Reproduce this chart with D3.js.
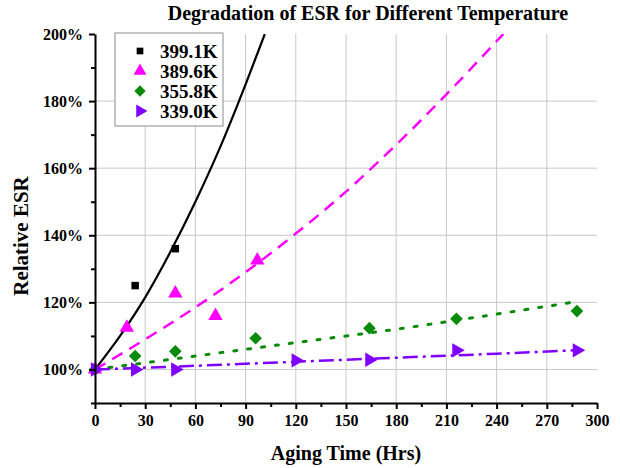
<!DOCTYPE html>
<html>
<head>
<meta charset="utf-8">
<script src="https://cdn.jsdelivr.net/npm/d3@7"></script>
<style>
  body { margin: 0; background: #fff; }
  text { font-family: "Liberation Serif", "Times New Roman", serif; font-weight: bold; }
</style>
</head>
<body>
<div class="vis-esr"></div>
<script>
// series names
const seriesNames = ["399.1K", "389.6K", "355.8K", "339.0K"];

// measured points
const hrs399 = [0, 24, 48];
const esr399 = [100, 125, 136];
const hrs389 = [0, 19, 48, 72, 97];
const esr389 = [100, 112.5, 122.7, 116, 132.5];
const hrs355 = [0, 24, 48, 96, 164, 216, 288];
const esr355 = [100, 104, 105.4, 109.3, 112.3, 115.1, 117.4];
const hrs339 = [0, 24, 48, 120, 164, 216, 288];
const esr339 = [100, 100, 100, 102.7, 102.9, 105.7, 105.7];

// fitted curves
const fitHrs399 = [0, 15, 30, 45, 60, 75, 90, 101.5];
const fitEsr399 = [100, 110, 121.5, 135, 150, 166.5, 185, 200];
const fitHrs389 = [0, 30, 60, 90, 120, 150, 180, 210, 244];
const fitEsr389 = [100, 109, 118.5, 129, 140.5, 153, 167, 182, 200];
const fitHrs355 = [0, 60, 120, 180, 240, 285];
const fitEsr355 = [100, 104, 108, 112, 116.5, 120];
const fitHrs339 = [0, 60, 120, 180, 240, 290];
const fitEsr339 = [100, 101.1, 102.3, 103.5, 104.7, 105.8];

// axis ticks
const xTicks = [0, 30, 60, 90, 120, 150, 180, 210, 240, 270, 300];
const yTicks = [100, 120, 140, 160, 180, 200];

const zip = (a, b) => a.map((v, i) => ({ x: v, y: b[i] }));

const series = [
    { name: seriesNames[0], pts: zip(hrs399, esr399), fit: zip(fitHrs399, fitEsr399), color: "#000000", dash: null, width: 2.2, sym: d3.symbolSquare, size: 56, rot: 0 },
    { name: seriesNames[1], pts: zip(hrs389, esr389), fit: zip(fitHrs389, fitEsr389), color: "#ff00ff", dash: "12,8", width: 2.5, sym: d3.symbolTriangle, size: 90, rot: 0 },
    { name: seriesNames[2], pts: zip(hrs355, esr355), fit: zip(fitHrs355, fitEsr355), color: "#0a8a0a", dash: "3,11", width: 3, sym: d3.symbolSquare, size: 80, rot: 45 },
    { name: seriesNames[3], pts: zip(hrs339, esr339), fit: zip(fitHrs339, fitEsr339), color: "#8000ff", dash: "15,5,3,5", width: 2.5, sym: d3.symbolTriangle, size: 90, rot: 90 }
];

const W = 620, H = 468;
const margin = { top: 34, right: 23, bottom: 65, left: 95 };
const width = W - margin.left - margin.right;
const height = H - margin.top - margin.bottom;

const svgRoot = d3.select(".vis-esr").append("svg")
    .attr("width", W)
    .attr("height", H);
const svg = svgRoot.append("g")
    .attr("transform", "translate(" + margin.left + "," + margin.top + ")");

const x = d3.scaleLinear().domain([0, 300]).range([0, width]);
const y = d3.scaleLinear().domain([90, 200]).range([height, 0]);

svgRoot.append("defs").append("clipPath").attr("id", "plotclip")
    .append("rect").attr("width", width).attr("height", height);

// grid
svg.append("g")
    .selectAll("line")
    .data(xTicks.filter(d => d > 0 && d < 300))
    .join("line")
    .attr("x1", d => x(d)).attr("x2", d => x(d))
    .attr("y1", 0).attr("y2", height)
    .attr("stroke", "#c8c8c8").attr("stroke-width", 1);
svg.append("g")
    .selectAll("line")
    .data(yTicks.filter(d => d < 200))
    .join("line")
    .attr("x1", 0).attr("x2", width)
    .attr("y1", d => y(d)).attr("y2", d => y(d))
    .attr("stroke", "#c8c8c8").attr("stroke-width", 1);

// fitted lines
const line = d3.line()
    .x(d => x(d.x))
    .y(d => y(d.y))
    .curve(d3.curveMonotoneX);

const plot = svg.append("g").attr("clip-path", "url(#plotclip)");
series.forEach(s => {
    plot.append("path")
        .datum(s.fit)
        .attr("fill", "none")
        .attr("stroke", s.color)
        .attr("stroke-width", s.width)
        .attr("stroke-dasharray", s.dash)
        .attr("stroke-linecap", s.dash === "3,11" ? "round" : "butt")
        .attr("d", line);
});

// markers
series.forEach(s => {
    svg.append("g")
        .selectAll("path")
        .data(s.pts)
        .join("path")
        .attr("transform", d => "translate(" + x(d.x) + "," + y(d.y) + ") rotate(" + s.rot + ")")
        .attr("d", d3.symbol().type(s.sym).size(s.size))
        .attr("fill", s.color);
});

// axes
const xAxis = svg.append("g")
    .attr("transform", "translate(0," + height + ")")
    .call(d3.axisBottom(x).tickValues(xTicks).tickSize(6).tickPadding(6).tickSizeOuter(0));
const xMinor = svg.append("g")
    .attr("transform", "translate(0," + height + ")")
    .call(d3.axisBottom(x).tickValues(xTicks.slice(0, -1).map(d => d + 15)).tickSize(4).tickFormat("").tickSizeOuter(0));
xMinor.select(".domain").remove();

const yAxis = svg.append("g")
    .call(d3.axisLeft(y).tickValues(yTicks).tickSize(6).tickPadding(6).tickFormat(d => d + "%").tickSizeOuter(0));
const yMinor = svg.append("g")
    .call(d3.axisLeft(y).tickValues([90, 110, 130, 150, 170, 190]).tickSize(4).tickFormat("").tickSizeOuter(0));
yMinor.select(".domain").remove();

[xAxis, yAxis, xMinor, yMinor].forEach(g => {
    g.selectAll("line").attr("stroke", "#000").attr("stroke-width", 2);
    g.select(".domain").attr("stroke", "#000").attr("stroke-width", 2);
    g.selectAll("text")
        .attr("fill", "#000")
        .style("font-family", '"Liberation Serif", serif')
        .style("font-weight", "bold")
        .style("font-size", "16px");
});

// titles
svgRoot.append("text")
    .attr("x", 368).attr("y", 20)
    .attr("text-anchor", "middle")
    .style("font-size", "20px")
    .text("Degradation of ESR for Different Temperature");

svgRoot.append("text")
    .attr("x", margin.left + width / 2).attr("y", 460)
    .attr("text-anchor", "middle")
    .style("font-size", "20px")
    .text("Aging Time (Hrs)");

svgRoot.append("text")
    .attr("transform", "translate(28,236) rotate(-90)")
    .attr("text-anchor", "middle")
    .style("font-size", "21px")
    .text("Relative ESR");

// legend
const legend = svgRoot.append("g").attr("transform", "translate(115,33)");
legend.append("rect")
    .attr("width", 108).attr("height", 93)
    .attr("fill", "#fff")
    .attr("stroke", "#8c8c8c").attr("stroke-width", 1);
series.forEach((s, i) => {
    const row = legend.append("g").attr("transform", "translate(0," + (18 + i * 20) + ")");
    row.append("path")
        .attr("transform", "translate(25,0) rotate(" + s.rot + ")")
        .attr("d", d3.symbol().type(s.sym).size(s.size * 0.8))
        .attr("fill", s.color);
    row.append("text")
        .attr("x", 45).attr("y", 6.5)
        .style("font-size", "19px")
        .text(s.name);
});
</script>
</body>
</html>
